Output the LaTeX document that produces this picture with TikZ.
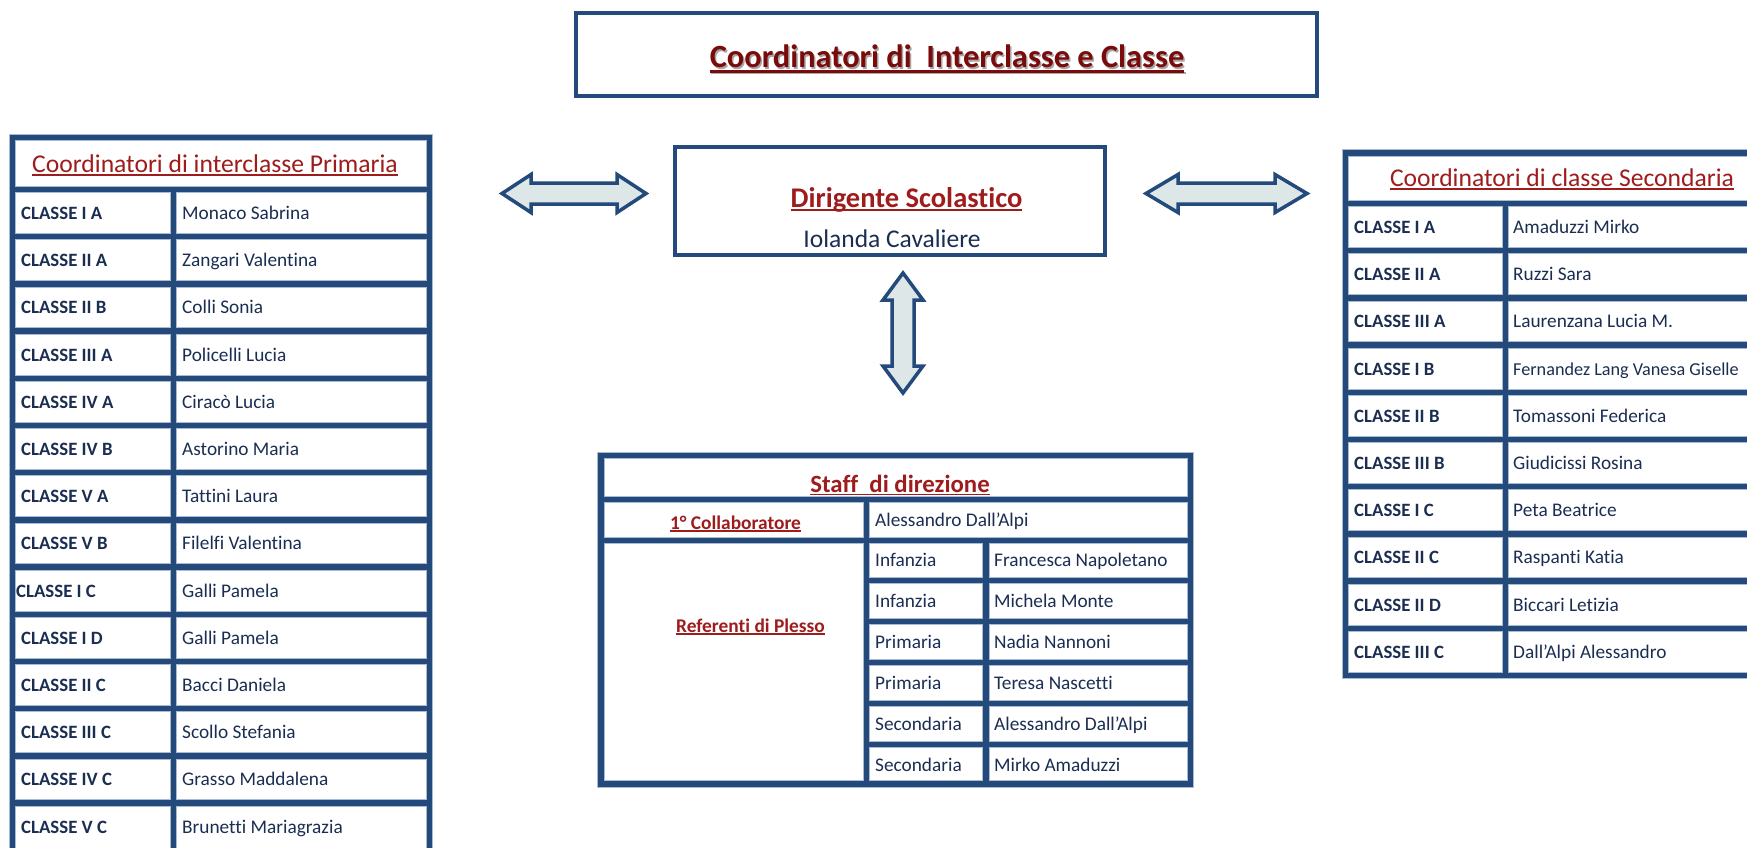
\documentclass[tikz,border=0pt]{standalone}
\usepackage{fontspec}
\setmainfont{Carlito}[Ligatures={NoCommon}]
\definecolor{tblue}{HTML}{234A7B}
\definecolor{halo}{HTML}{A9BBD2}
\definecolor{afill}{HTML}{DDE7E8}
\definecolor{navy}{HTML}{1B2E52}
\definecolor{dred}{HTML}{9E1C1C}
\definecolor{tred}{HTML}{7B0A0A}
\newsavebox\ulbox
\newcommand\myul[1]{\sbox\ulbox{#1}\rlap{\rule[-0.14em]{\wd\ulbox}{0.07em}}\usebox\ulbox}
\tikzset{
  gridline/.style={draw=tblue, line width=5.5pt},
  gridhalo/.style={draw=halo, line width=7.5pt},
  framebox/.style={draw=tblue, line width=4pt},
  blockarrow/.style={draw=tblue, fill=afill, line width=3.5pt, line join=miter},
  txt/.style={inner sep=0pt, text=navy},
  lab/.style={txt, anchor=base west, font=\fontsize{18.8}{22}\selectfont\bfseries},
  nam/.style={txt, anchor=base west, font=\fontsize{19.3}{22}\selectfont},
  hdr/.style={inner sep=0pt, anchor=base, text=dred, font=\fontsize{25.6}{30}\selectfont},
  subhdr/.style={inner sep=0pt, anchor=base, text=dred, font=\fontsize{19.4}{22}\selectfont\bfseries},
}
\newcommand\leftgrid{(12.5,137.5) rectangle (429.5,852)
  (12.5,189.5) -- (429.5,189.5)
  \foreach \k in {1,...,13} {(12.5,{189.5+\k*47.2}) -- (429.5,{189.5+\k*47.2})}
  (173.5,189.5) -- (173.5,852)}
\newcommand\rightgrid{(1345.5,153) rectangle (1790,675.5)
  (1345.5,203.5) -- (1790,203.5)
  \foreach \k in {1,...,9} {(1345.5,{203.5+\k*47.2}) -- (1790,{203.5+\k*47.2})}
  (1505.5,203.5) -- (1505.5,675.5)}
\newcommand\staffgrid{(601,455.5) rectangle (1190.5,784)
  (601,499.5) -- (1190.5,499.5)
  (601,540.5) -- (1190.5,540.5)
  (866.5,499.5) -- (866.5,784)
  (986,540.5) -- (986,784)
  \foreach \yy in {580.5,621.5,662.5,703.5,744.5} {(866.5,\yy) -- (1190.5,\yy)}}
\begin{document}
\begin{tikzpicture}[x=1pt,y=-1pt]
\useasboundingbox (0,0) rectangle (1747,848);
\fill[white] (0,0) rectangle (1747,848);

% title box
\draw[framebox] (576,13.5) rectangle (1317,96.5);
\node[inner sep=0pt, anchor=base, text=gray!70, font=\fontsize{32.4}{36}\selectfont\bfseries] (ttlshadow) at (948.5,69.5) {\myul{Coordinatori di~~Interclasse e Classe}};
\node[inner sep=0pt, anchor=base, text=tred, font=\fontsize{32.4}{36}\selectfont\bfseries] (ttl) at (947,68) {\myul{Coordinatori di~~Interclasse e Classe}};

% dirigente box
\draw[framebox] (675,147) rectangle (1104.5,255);
\node[inner sep=0pt, anchor=base, text=dred, font=\fontsize{28.5}{33}\selectfont\bfseries] (dir) at (906.5,207) {\myul{Dirigente Scolastico}};
\node[inner sep=0pt, anchor=base, text=navy, font=\fontsize{25.5}{30}\selectfont] (dirname) at (892,247) {Iolanda Cavaliere};

% arrows
\draw[blockarrow] (502,193.5) -- (531,174.5) -- (531,183) -- (617,183) -- (617,174.5) -- (646,193.5) -- (617,212.5) -- (617,204) -- (531,204) -- (531,212.5) -- cycle;
\draw[blockarrow] (1146,193.5) -- (1178,174.5) -- (1178,183) -- (1275,183) -- (1275,174.5) -- (1307,193.5) -- (1275,212.5) -- (1275,204) -- (1178,204) -- (1178,212.5) -- cycle;
\draw[blockarrow] (903,273) -- (923,300) -- (914,300) -- (914,366) -- (923,366) -- (903,393) -- (883,366) -- (892,366) -- (892,300) -- (883,300) -- cycle;

% table grids
\draw[gridhalo] \leftgrid;
\draw[gridhalo] \rightgrid;
\draw[gridhalo] \staffgrid;
\draw[gridline] \leftgrid;
\draw[gridline] \rightgrid;
\draw[gridline] \staffgrid;

% left table
\node[hdr] (lhead) at (215,172) {\myul{Coordinatori di interclasse Primaria}};
\foreach \a/\b/\dx [count=\i] in {CLASSE I A/Monaco Sabrina/0, CLASSE II A/Zangari Valentina/0, CLASSE II B/Colli Sonia/0, CLASSE III A/Policelli Lucia/0, CLASSE IV A/Ciracò Lucia/0, CLASSE IV B/Astorino Maria/0, CLASSE V A/Tattini Laura/0, CLASSE V B/Filelfi Valentina/0, CLASSE I C/Galli Pamela/5, CLASSE I D/Galli Pamela/0, CLASSE II C/Bacci Daniela/0, CLASSE III C/Scollo Stefania/0, CLASSE IV C/Grasso Maddalena/0, CLASSE V C/Brunetti Mariagrazia/0} {
  \node[lab] (la\i) at ({21-\dx},{219.4+(\i-1)*47.2}) {\a};
  \node[nam] (lb\i) at (182,{219.4+(\i-1)*47.2}) {\b};
}

% right table
\node[hdr] (rhead) at (1562,186.5) {\myul{Coordinatori di classe Secondaria}};
\foreach \a/\b [count=\i] in {CLASSE I A/Amaduzzi Mirko, CLASSE II A/Ruzzi Sara, CLASSE III A/Laurenzana Lucia M., CLASSE I B/{}, CLASSE II B/Tomassoni Federica, CLASSE III B/Giudicissi Rosina, CLASSE I C/Peta Beatrice, CLASSE II C/Raspanti Katia, CLASSE II D/Biccari Letizia, CLASSE III C/Dall’Alpi Alessandro} {
  \node[lab] (ra\i) at (1354,{233.4+(\i-1)*47.2}) {\a};
  \node[nam] (rb\i) at (1513,{233.4+(\i-1)*47.2}) {\b};
}
\node[nam, font=\fontsize{18.2}{22}\selectfont] (rb4x) at (1513,{233.4+3*47.2}) {Fernandez Lang Vanesa Giselle};

% staff table
\node[inner sep=0pt, anchor=base, text=dred, font=\fontsize{24.8}{30}\selectfont\bfseries] (shead) at (900,492) {\myul{Staff~~di direzione}};
\node[subhdr] (coll) at (735.5,529) {\myul{1° Collaboratore}};
\node[nam] (collname) at (875,526) {Alessandro Dall’Alpi};
\node[subhdr] (refs) at (750.5,632) {\myul{Referenti di Plesso}};
\foreach \a/\b [count=\i] in {Infanzia/Francesca Napoletano, Infanzia/Michela Monte, Primaria/Nadia Nannoni, Primaria/Teresa Nascetti, Secondaria/Alessandro Dall’Alpi, Secondaria/Mirko Amaduzzi} {
  \node[nam] (sa\i) at (875,{566.5+(\i-1)*41}) {\a};
  \node[nam] (sb\i) at (994,{566.5+(\i-1)*41}) {\b};
}
\end{tikzpicture}
\end{document}
